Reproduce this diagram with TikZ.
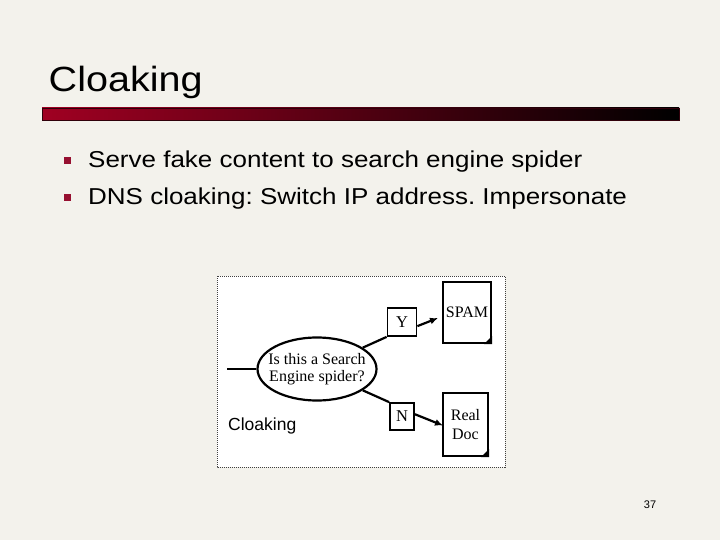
\documentclass[tikz,border=0pt]{standalone}
\usepackage{fontspec}
\usetikzlibrary{shapes.geometric,arrows.meta}
\newfontfamily\slidefont[FakeStretch=1.13]{Liberation Sans}
\newfontfamily\figsans{Liberation Sans}
\newfontfamily\figserif{Liberation Serif}
\definecolor{slidebg}{RGB}{243,242,236}
\definecolor{barred}{RGB}{160,0,34}
\definecolor{bulletred}{RGB}{150,16,48}
\frenchspacing

\begin{document}
\begin{tikzpicture}[x=1pt, y=-1pt,
    point/.style={anchor=base west, inner sep=0pt, font=\slidefont\fontsize{23}{28}\selectfont},
    bullet/.style={rectangle, fill=bulletred, minimum size=7pt, inner sep=0pt},
    question/.style={ellipse, draw, line width=2.2pt, minimum width=119pt, minimum height=63pt,
        inner xsep=-14pt, inner ysep=0pt, align=center, font=\figserif\fontsize{16}{17}\selectfont},
    answer/.style={rectangle, draw, line width=1.8pt, inner sep=0pt, font=\figserif\fontsize{16.5}{18}\selectfont},
    page/.style={rectangle, draw, line width=2.2pt, minimum width=48pt, inner sep=0pt,
        align=center, font=\figserif\fontsize{16}{19}\selectfont},
    link/.style={line width=2.2pt},
    flow/.style={line width=2.2pt, -{Latex[length=8pt,width=7pt]}}]
        % Slide background
        \fill[slidebg] (0,0) rectangle (720,540);

        % Title and bar
        \node[anchor=base west, inner sep=0pt, font=\slidefont\fontsize{35}{40}\selectfont] (title) at (48.5,92) {Cloaking};
        \shade[left color=barred, right color=black, draw=black!70!barred, line width=0.6pt] (42,108) rectangle (679,120.5);

        % Bullets
        \node[bullet] (b1) at (67.5,161) {};
        \node[point] (p1) at (88,168) {Serve fake content to search engine spider};
        \node[bullet] (b2) at (67.5,197.7) {};
        \node[point] (p2) at (88,205) {DNS cloaking: Switch IP address. Impersonate};

        % Figure frame
        \draw[densely dotted, line width=1pt, draw=black!75, fill=white] (217,276) rectangle (505,467);

        % Decision
        \node[question] (spider) at (317,369) {Is this a Search\\Engine spider?};
        \coordinate (feed) at (227,369);
        \draw[link] (feed) -- (spider.west);

        % Answers
        \node[answer, minimum width=29pt, minimum height=28pt] (yes) at (402,322) {Y};
        \node[answer, minimum width=24pt, minimum height=27pt] (no) at (402,416.5) {N};
        \draw[link] (spider.25) -- (yes.south west);
        \draw[link] (spider.-25) -- (no.north west);

        % Served pages
        \node[page, minimum height=61pt] (spam) at (467,312.5) {SPAM};
        \node[page, minimum width=45pt, minimum height=63pt] (realdoc) at (465.5,424.5) {Real\\Doc};
        \fill (spam.south east) -- ++(-8pt,0pt) -- ++(8pt,8pt) -- cycle;
        \fill (realdoc.south east) -- ++(-8pt,0pt) -- ++(8pt,8pt) -- cycle;

        \coordinate (spamtip) at (438,318);
        \coordinate (doctip) at (443,425.5);
        \draw[flow] (yes.-15) -- (spamtip);
        \draw[flow] (no.10) -- (doctip);

        \node[anchor=base west, inner sep=0pt, font=\figsans\fontsize{17.5}{20}\selectfont] (figlabel) at (228,430) {Cloaking};

        % Page number
        \node[font=\figsans\fontsize{11}{13}\selectfont] (pagenum) at (650,505) {37};
\end{tikzpicture}
\end{document}
